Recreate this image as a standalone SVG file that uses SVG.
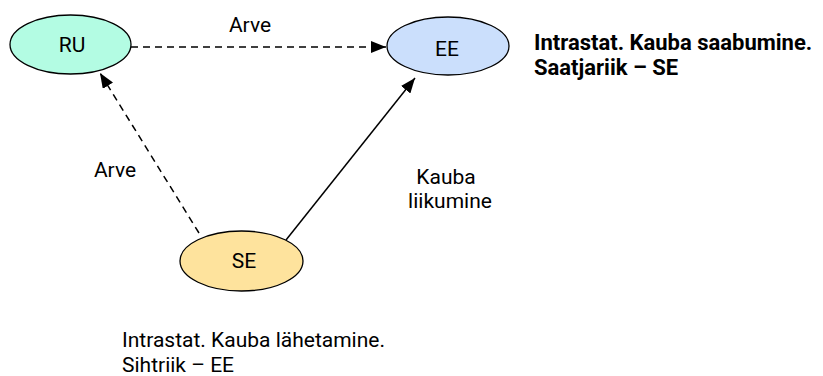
<svg xmlns="http://www.w3.org/2000/svg" width="823" height="376" viewBox="0 0 823 376">
<defs>
<style>
text{font-family:Roboto,"Liberation Sans",sans-serif;font-size:21px;fill:#000}
.c{text-anchor:middle}
.b{font-weight:bold;font-size:22px}
.n{stroke:#000;stroke-width:1.3}
.l{fill:none;stroke:#000;stroke-width:1.5}
.d{stroke-dasharray:7,5}
</style>
<marker id="ah" markerWidth="15" markerHeight="12" refX="15" refY="6" orient="auto" markerUnits="userSpaceOnUse">
<path d="M0,0 L15,6 L0,12 Z" fill="#000"/>
</marker>
</defs>
<rect width="823" height="376" fill="#fff"/>
<g id="connectors">
<line class="l d" x1="131" y1="47" x2="386" y2="47" marker-end="url(#ah)"/>
<line class="l d" x1="199" y1="233" x2="100" y2="73" marker-end="url(#ah)"/>
<line class="l" x1="286" y1="240" x2="415" y2="78" marker-end="url(#ah)"/>
</g>
<g id="RU">
<ellipse class="n" cx="70.5" cy="44.5" rx="60.5" ry="29.5" fill="#b3fce3"/>
<text class="c" x="72" y="52">RU</text>
</g>
<g id="EE">
<ellipse class="n" cx="448" cy="46" rx="61" ry="29" fill="#cbdffc"/>
<text class="c" x="447" y="56">EE</text>
</g>
<g id="SE">
<ellipse class="n" cx="241.5" cy="261" rx="61.5" ry="30" fill="#fee39d"/>
<text class="c" x="244" y="268">SE</text>
</g>
<text class="c" x="250" y="32">Arve</text>
<text class="c" x="115" y="177">Arve</text>
<text class="c" x="446" y="184">Kauba</text>
<text class="c" x="450" y="208">liikumine</text>
<text class="b" x="534" y="50">Intrastat. Kauba saabumine.</text>
<text class="b" x="534" y="75">Saatjariik – SE</text>
<text x="122" y="347">Intrastat. Kauba lähetamine.</text>
<text x="122" y="372">Sihtriik – EE</text>
</svg>
